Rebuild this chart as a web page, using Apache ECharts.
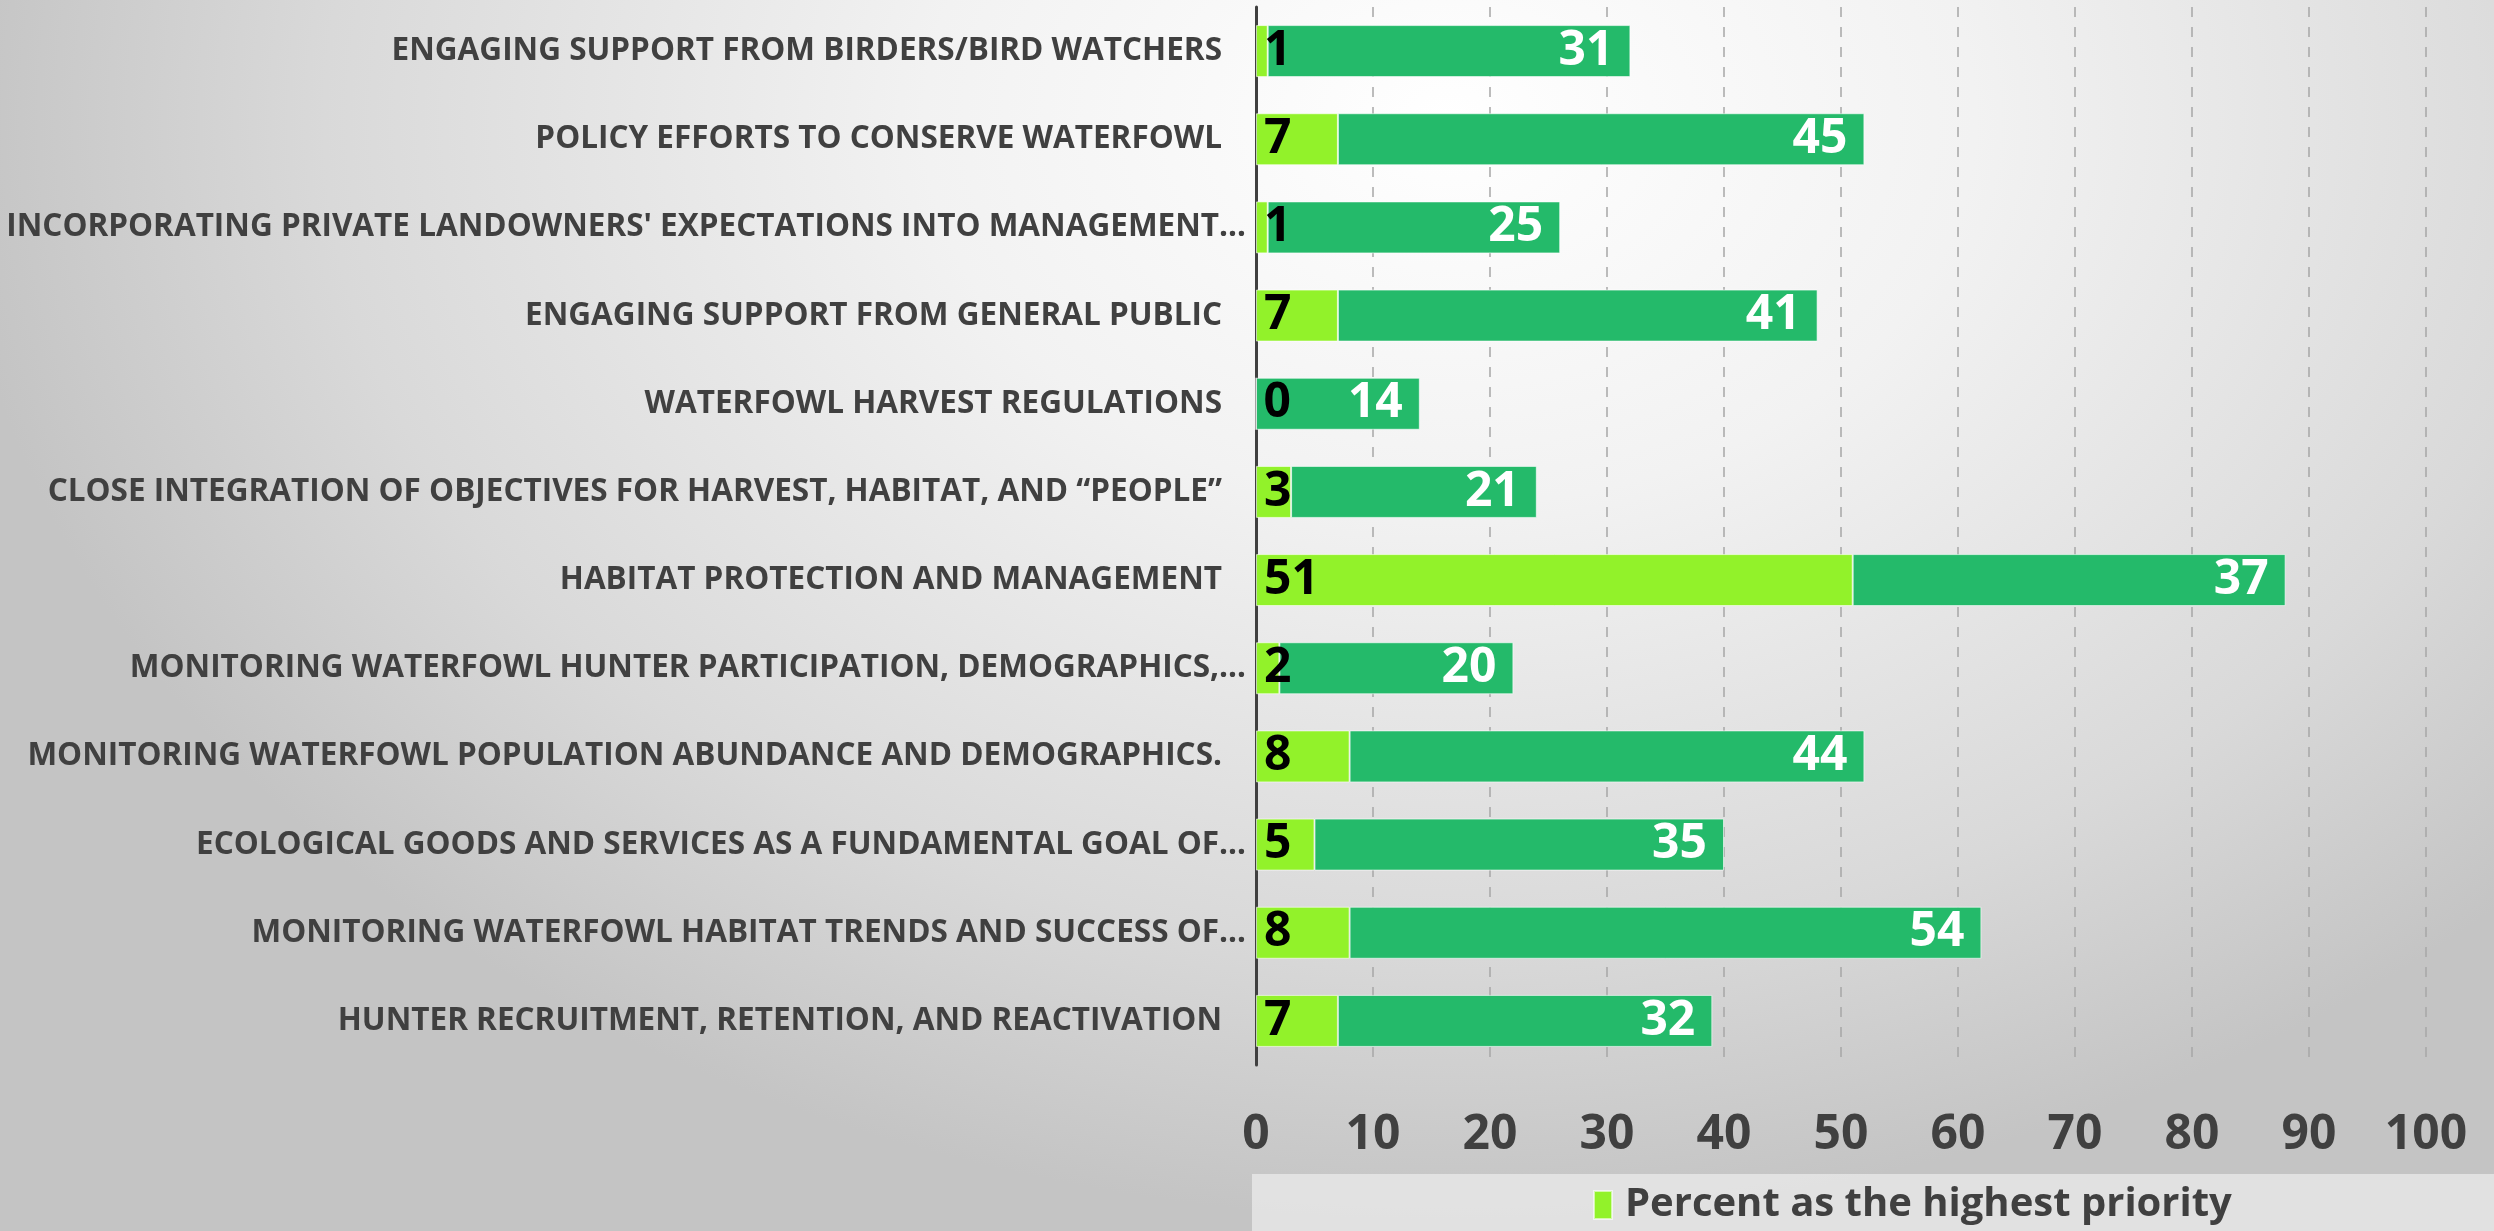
<!DOCTYPE html>
<html>
<head>
<meta charset="utf-8">
<script src="https://cdn.jsdelivr.net/npm/echarts@6/dist/echarts.min.js"></script>
<style>
html,body{margin:0;padding:0;width:2494px;height:1231px;overflow:hidden;}
body{background:radial-gradient(ellipse 1500px 1100px at 1450px 120px,#ffffff 0%,#f2f2f2 35%,#d9d9d9 75%,#c4c4c4 100%);}
#chart{width:2494px;height:1231px;}
</style>
</head>
<body>
<div id="chart"></div>
<script>
const categories = [
  "ENGAGING SUPPORT FROM BIRDERS/BIRD WATCHERS",
  "POLICY EFFORTS TO CONSERVE WATERFOWL",
  "INCORPORATING PRIVATE LANDOWNERS' EXPECTATIONS INTO MANAGEMENT…",
  "ENGAGING SUPPORT FROM GENERAL PUBLIC",
  "WATERFOWL HARVEST REGULATIONS",
  "CLOSE INTEGRATION OF OBJECTIVES FOR HARVEST, HABITAT, AND “PEOPLE”",
  "HABITAT PROTECTION AND MANAGEMENT",
  "MONITORING WATERFOWL HUNTER PARTICIPATION, DEMOGRAPHICS,…",
  "MONITORING WATERFOWL POPULATION ABUNDANCE AND DEMOGRAPHICS.",
  "ECOLOGICAL GOODS AND SERVICES AS A FUNDAMENTAL GOAL OF…",
  "MONITORING WATERFOWL HABITAT TRENDS AND SUCCESS OF…",
  "HUNTER RECRUITMENT, RETENTION, AND REACTIVATION"
];
const highestPriority = [1, 7, 1, 7, 0, 3, 51, 2, 8, 5, 8, 7];
const otherPriority = [31, 45, 25, 41, 14, 21, 37, 20, 44, 35, 54, 32];
const xTicks = {min: 0, max: 100, interval: 10};
const seriesNames = ["Percent as the highest priority", "Percent as a high priority"];

const FONT = "'Open Sans', sans-serif";
// truncated labels (ending with an ellipsis) run a little closer to the axis
const yData = categories.map(c => c.endsWith('…')
  ? {value: c, textStyle: {padding: [0, -24, 0, 0]}}
  : c);

const chart = echarts.init(document.getElementById('chart'), null, {renderer: 'canvas'});
chart.setOption({
  backgroundColor: 'transparent',
  animation: false,
  graphic: [{
    type: 'rect', left: 1252, top: 1174, shape: {width: 1242, height: 57},
    style: {fill: 'rgba(235,235,235,0.75)'}, z: -1, silent: true
  }],
  legend: {
    data: [seriesNames[0]],
    left: 1588, top: 1180,
    itemWidth: 18, itemHeight: 28, itemGap: 20,
    icon: 'rect',
    textStyle: {fontFamily: FONT, fontWeight: 'bold', fontSize: 40, color: '#404040', padding: [0, 0, 0, 8]}
  },
  grid: {left: 1256, right: 68, top: 7, bottom: 166, containLabel: false, outerBoundsMode: 'none'},
  xAxis: {
    type: 'value', min: xTicks.min, max: xTicks.max, interval: xTicks.interval,
    axisLine: {show: false}, axisTick: {show: false},
    axisLabel: {fontFamily: FONT, fontWeight: 'bold', fontSize: 48, color: '#404040', margin: 46},
    splitLine: {show: true, lineStyle: {type: [10, 10], color: '#a6a6a6', width: 1.5},
      showMinLine: false}
  },
  yAxis: {
    type: 'category', data: yData, inverse: true,
    axisLine: {show: true, lineStyle: {color: '#404040', width: 3}},
    axisTick: {show: false},
    axisLabel: {fontFamily: FONT, fontWeight: 'bold', fontSize: 31.5, color: '#404040', margin: 34}
  },
  series: [
    {
      name: seriesNames[0], type: 'bar', stack: 'total', data: highestPriority,
      barWidth: 52,
      itemStyle: {color: '#92f22a', borderColor: 'rgba(255,255,255,0.6)', borderWidth: 1},
      label: {show: true, position: 'insideLeft', distance: 8, color: '#000', fontFamily: FONT,
        fontWeight: 'bold', fontSize: 48},
      z: 3
    },
    {
      name: seriesNames[1], type: 'bar', stack: 'total', data: otherPriority,
      barWidth: 52,
      itemStyle: {color: '#24ba6a', borderColor: 'rgba(255,255,255,0.6)', borderWidth: 1},
      label: {show: true, position: 'insideRight', distance: 17, color: '#fff', fontFamily: FONT,
        fontWeight: 'bold', fontSize: 48},
      z: 2
    }
  ]
});
</script>
</body>
</html>
